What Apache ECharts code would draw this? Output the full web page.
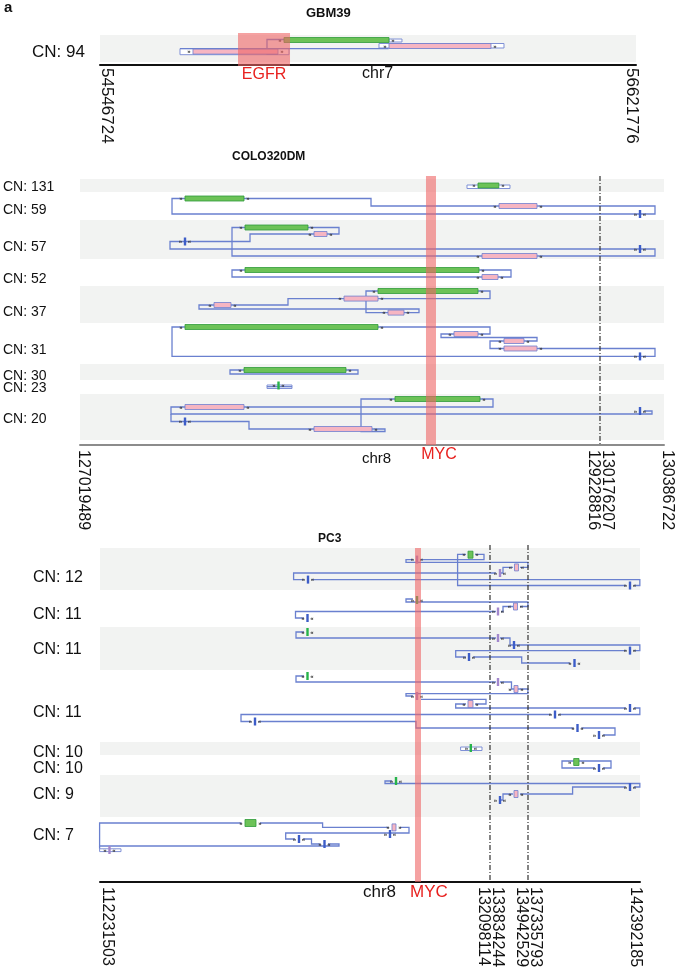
<!DOCTYPE html>
<html><head><meta charset="utf-8">
<script src="https://cdn.jsdelivr.net/npm/echarts/dist/echarts.min.js"></script>
<style>html,body{margin:0;padding:0;background:#fff}#c{width:680px;height:976px}</style>
</head><body><div id="c"></div>
<script>
// ================= DATA (genomic positions in Mb; y = track offset inside each panel) =================
// ---- GBM39 (chr7) ----
const gbmSegments = [[54.546724, 56.621776]];
const gbmTickLabels = [[54.546724,'54546724',1],[56.621776,'56621776',-0.6]];
const gbmBands = [[0,27,1]];
const gbmCN = [[17,'CN: 94']];
const gbmHighlight = [[55.0810,55.2823,-2,31,'EGFR']];
const gbmBars = [[55.2590,55.6655,5,'g',1],[55.6655,56.0604,11,'p',1],[54.9067,55.2358,16.6,'p',1]];
const gbmBoxes = [[55.6655,55.7158,4,7],[55.6268,56.1107,8.5,13],[54.8564,55.2784,13.6,19.7]];
const gbmTicks = [];
const gbmPaths = [
  [[55.2590,4.5],[55.1932,4.5],[55.1932,19],[55.2358,19]],
  [[54.8564,13.6],[55.6616,13.6],[55.6616,13]]
];
// ---- COLO320DM (chr8) ----
const colSegments = [[127.019489,129.228816],[130.176207,130.386722]];
const colTickLabels = [[127.019489,'127019489',0.5],[129.228816,'129228816',-1],[130.176207,'130176207',1],[130.386722,'130386722',0.5]];
const colBands = [[3,16,1],[16,44,0],[44,83,1],[83,110,0],[110,147,1],[147,188,0],[188,204,1],[204,218,0],[218,264,1]];
const colCN = [[11,'CN: 131'],[34,'CN: 59'],[71,'CN: 57'],[103,'CN: 52'],[136,'CN: 37'],[174,'CN: 31'],[200,'CN: 30'],[212,'CN: 23'],[243,'CN: 20']];
const colHighlight = [[128.4895,128.5320,0,269,'MYC']];
const colBars = [
  [128.7105,128.7990,9.5,'g',1],[127.4656,127.7163,22.5,'g',1],[128.7997,128.9612,30,'p',1],
  [127.7205,127.9882,51.5,'g',1],[128.0137,128.0689,58,'p',-1],[128.7275,128.9612,80,'p',-1],
  [127.7205,128.7147,94,'g',1],[128.7275,128.7955,101,'p',-1],
  [128.2856,128.7105,115,'g',1],[128.1412,128.2856,122.6,'p',-1],[127.5888,127.6610,129,'p',-1],[128.3281,128.3961,136.6,'p',-1],
  [127.4656,128.2856,151,'g',1],[128.6085,128.7105,158,'p',-1],[128.8209,128.9059,165,'p',-1],[128.8209,128.9612,172.5,'p',1],
  [127.7163,128.1496,194,'g',1],
  [128.3578,128.7190,223,'g',1],[127.4656,127.7163,231,'p',-1],[128.0137,128.2601,253,'p',1]
];
const colBoxes = [[128.6637,128.8464,9,12.5],[127.8140,127.9202,209,212.5]];
const colTicks = [[130.3078,38,'b'],[127.4656,65.5,'b'],[130.3078,73,'b'],[130.3078,180.4,'b'],[130.3078,235,'b'],[127.4656,245.5,'b'],[127.8629,209.5,'g']];
const colPaths = [
  [[127.4656,22.5],[127.4104,22.5],[127.4104,38],[130.3571,38],[130.3571,30],[128.9612,30]],
  [[127.7163,22.5],[128.2559,22.5],[128.2559,30],[128.7997,30]],
  [[127.9882,51.5],[128.1199,51.5],[128.1199,58],[128.0689,58]],
  [[128.0137,58],[127.7418,58],[127.7418,65.5],[127.4656,65.5]],
  [[127.4656,65.5],[127.4019,65.5],[127.4019,73],[130.3571,73],[130.3571,80],[128.9612,80]],
  [[128.7275,80],[127.6653,80],[127.6653,51.5],[127.7205,51.5]],
  [[128.7147,94],[128.8507,94],[128.8507,101],[128.7955,101]],
  [[128.7275,101],[127.6653,101],[127.6653,94],[127.7205,94]],
  [[128.7105,115],[128.7615,115],[128.7615,122.6],[128.2856,122.6]],
  [[128.1412,122.6],[127.9032,122.6],[127.9032,129],[127.6610,129]],
  [[127.5888,129],[127.5251,129],[127.5251,133],[128.4598,133],[128.4598,136.6],[128.3961,136.6]],
  [[128.3281,136.6],[128.2346,136.6],[128.2346,115],[128.2856,115]],
  [[128.2856,151],[128.7615,151],[128.7615,158],[128.7105,158]],
  [[128.6085,158],[128.5533,158],[128.5533,161.5],[128.9612,161.5],[128.9612,165],[128.9059,165]],
  [[128.8209,165],[128.7615,165],[128.7615,172.5],[128.8209,172.5]],
  [[128.9612,172.5],[130.3571,172.5],[130.3571,180.4],[127.4104,180.4],[127.4104,151],[127.4656,151]],
  [[127.7163,194],[127.6568,194],[127.6568,198],[128.2006,198],[128.2006,194],[128.1496,194]],
  [[127.8140,210.7],[127.9202,210.7]],
  [[128.7190,223],[128.7742,223],[128.7742,231],[127.7163,231]],
  [[127.4656,231],[127.4061,231],[127.4061,238],[130.3473,238],[130.3473,235],[130.3209,235]],
  [[127.4061,238],[127.4061,245.5],[127.4656,245.5]],
  [[127.4656,245.5],[127.7375,245.5],[127.7375,253],[128.0137,253]],
  [[128.2601,253],[128.3153,253],[128.3153,255.5],[128.2134,255.5],[128.2134,223],[128.3578,223]]
];
// ---- PC3 (chr8) ----
const pcSegments = [[112.231503,132.098114],[133.834244,134.942529],[137.335793,142.392185]];
const pcTickLabels = [[112.231503,'112231503',1],[132.098114,'132098114',-1],[133.834244,'133834244',1],[134.942529,'134942529',-1],[137.335793,'137335793',1],[142.392185,'142392185',-0.6]];
const pcBands = [[3,45,1],[45,82,0],[82,125,1],[125,197,0],[197,210,1],[210,230,0],[230,272,1],[272,335,0]];
const pcCN = [[33,'CN: 12'],[70,'CN: 11'],[105,'CN: 11'],[168,'CN: 11'],[208,'CN: 10'],[224,'CN: 10'],[250,'CN: 9'],[291,'CN: 7']];
const pcHighlight = [[128.2776,128.5832,3,337,'MYC']];
const pcBars = [
  [130.9774,131.2321,9.7,'G',1],[134.5633,134.6508,22.4,'P',-1],[134.5342,134.6217,61.5,'P',-1],
  [134.5633,134.6217,144,'P',1],[130.9774,131.2321,159,'P',-1],[139.3990,139.6382,217,'G',1],
  [134.5633,134.6217,249,'P',-1],[119.6178,120.1781,278,'G',1],[127.1060,127.3097,282.4,'P',1]
];
const pcBoxes = [[130.6005,131.6906,202,205.5],[112.2111,113.3012,303.8,306.6]];
const pcTicks = [
  [128.3795,14.6,'u'],[134.1259,28,'u'],[122.8270,34.6,'b'],[141.9407,40.5,'b'],
  [128.3795,55,'g'],[134.0675,66.5,'u'],[122.8016,73,'b'],
  [122.8016,87,'g'],[134.0675,93,'u'],[134.5342,100,'b'],[141.9407,105.6,'b'],[131.0284,112,'b'],[139.4351,118,'b'],
  [122.8016,131,'g'],[134.0675,137,'u'],[128.3795,151,'u'],[141.9407,163,'b'],[138.5547,169.5,'b'],[120.1272,176.5,'b'],[139.5705,183,'b'],[140.5412,190,'b'],
  [131.1201,203,'g'],[140.5412,223,'b'],
  [127.3097,236,'g'],[141.9407,242,'b'],[134.1259,255,'b'],
  [127.0041,289,'b'],[122.3686,294,'b'],[123.6675,299,'b'],[112.7154,305,'u']
];
const pcPaths = [
  [[134.0092,28],[122.0935,28],[122.0935,34.6],[122.6233,34.6]],
  [[123.0308,34.6],[142.385,34.6],[142.385,40.5],[142.1213,40.5]],
  [[141.7601,40.5],[130.4477,40.5],[130.4477,9.3],[130.8755,9.3]],
  [[131.3340,9.3],[131.7925,9.3],[131.7925,14.6],[128.5832,14.6]],
  [[128.1757,14.6],[127.8191,14.6],[127.8191,17.3],[134.94,17.3],[134.94,22.4],[134.7092,22.4]],
  [[134.5050,22.4],[134.2133,22.4],[134.2133,28],[134.1550,28]],
  [[128.1757,54],[127.8191,54],[127.8191,57],[134.94,57],[134.94,61.5],[134.7092,61.5]],
  [[134.5050,61.5],[134.2133,61.5],[134.2133,66.5],[134.1550,66.5]],
  [[134.0092,66.5],[122.1903,66.5],[122.1903,73],[122.6233,73]],
  [[122.6233,87],[122.2157,87],[122.2157,93],[134.0092,93]],
  [[134.1259,93],[134.4175,93],[134.4175,100],[134.5050,100]],
  [[134.5633,100],[142.385,100],[142.385,105.6],[142.1213,105.6]],
  [[141.7601,105.6],[130.3509,105.6],[130.3509,112],[130.8755,112]],
  [[131.2321,112],[134.7587,112],[134.7587,118],[139.2319,118]],
  [[122.6233,131],[122.2157,131],[122.2157,137],[134.0092,137]],
  [[134.1259,137],[134.4612,137],[134.4612,144],[134.5342,144]],
  [[134.6508,144],[134.94,144],[134.94,148.6],[127.8191,148.6],[127.8191,151],[128.1757,151]],
  [[128.5832,154.3],[131.8943,154.3],[131.8943,159],[131.3340,159]],
  [[130.8755,159],[130.3509,159],[130.3509,163],[141.7601,163]],
  [[142.1213,163],[142.385,163],[142.385,169.5],[138.7353,169.5]],
  [[138.3742,169.5],[119.4140,169.5],[119.4140,176.5],[119.9235,176.5]],
  [[120.3310,176.5],[128.3285,176.5],[128.3285,183],[139.3990,183]],
  [[139.7511,183],[141.2635,183],[141.2635,190],[140.7218,190]],
  [[139.6382,216],[141.0829,216],[141.0829,223],[140.7218,223]],
  [[140.3606,223],[138.8708,223],[138.8708,216],[139.3990,216]],
  [[127.1060,236],[126.7494,236],[126.7494,238.5],[142.385,238.5],[142.385,242],[142.1213,242]],
  [[141.7601,242],[139.3493,242],[139.3493,249],[134.7092,249]],
  [[134.5050,249],[134.2133,249],[134.2133,255],[134.1550,255]],
  [[119.4343,278],[112.2111,278],[112.2111,301],[124.4062,301],[124.4062,299],[123.8458,299]],
  [[123.4638,299],[123.0053,299],[123.0053,294],[122.5723,294]],
  [[122.1648,294],[121.6911,294],[121.6911,288],[127.9720,288],[127.9720,282.4],[127.5135,282.4]],
  [[120.3819,278],[123.5707,278],[123.5707,282.4],[126.9379,282.4]],
  [[112.2111,301],[112.2111,303.8]]
];

// ================= LAYOUT / STYLE =================
const FONT = "'Liberation Sans', Arial, Helvetica, sans-serif";
const panels = [
  {segs:gbmSegments, weights:[536], left:100, top:35, height:30, bands:gbmBands, cn:gbmCN, cnFont:17, cnGap:68,
   bars:gbmBars, boxes:gbmBoxes, ticks:gbmTicks, paths:gbmPaths, hl:gbmHighlight, hlShift:0, hlFont:16,
   tickLabels:gbmTickLabels, tlFont:17, tlGap:3, axisColor:'#111', barH:5},
  {segs:colSegments, weights:[520,64], left:80, top:176, height:269, bands:colBands, cn:colCN, cnFont:14, cnGap:77,
   bars:colBars, boxes:colBoxes, ticks:colTicks, paths:colPaths, hl:colHighlight, hlShift:8, hlFont:16,
   tickLabels:colTickLabels, tlFont:16, tlGap:5, axisColor:'#8c8c8c', barH:5},
  {segs:pcSegments, weights:[390,38,112], left:100, top:545, height:337, bands:pcBands, cn:pcCN, cnFont:16, cnGap:67,
   bars:pcBars, boxes:pcBoxes, ticks:pcTicks, paths:pcPaths, hl:pcHighlight, hlShift:11, hlFont:17,
   tickLabels:pcTickLabels, tlFont:16, tlGap:5, axisColor:'#111', barH:4}
];

function makeScale(segs, weights){
  const starts=[]; let acc=0;
  weights.forEach(w=>{starts.push(acc); acc+=w;});
  return {total:acc, f:(g)=>{
    for(let i=0;i<segs.length;i++){
      const a=segs[i][0], b=segs[i][1];
      if(g<=b || i===segs.length-1){ if(g<a && i>0) g=a; return starts[i]+(g-a)/(b-a)*weights[i]; }
    }
  }};
}
const glyph=(x,y,s)=>({type:'text', x:x, y:y, style:{text:s, font:'bold 6px '+FONT, fill:'#333', align:'center', verticalAlign:'middle'}});

const grids=[], xAxes=[], yAxes=[], series=[];
panels.forEach((p,pi)=>{
  const sc = makeScale(p.segs, p.weights);
  grids.push({left:p.left, top:p.top, width:sc.total, height:p.height});
  xAxes.push({gridIndex:pi, type:'value', min:0, max:sc.total,
    axisLine:{show:true, onZero:false, lineStyle:{color:p.axisColor, width:2}},
    axisTick:{show:false}, axisLabel:{show:false}, splitLine:{show:false}});
  yAxes.push({gridIndex:pi, type:'value', inverse:true, min:0, max:p.height, show:false});
  const C=(api,g,y)=>api.coord([sc.f(g),y]);
  const add=(rows,z,fn)=>series.push({type:'custom', xAxisIndex:pi, yAxisIndex:pi, z:z, silent:true, clip:false, animation:false,
     data:rows.map((r,i)=>[i,0]), renderItem:(params,api)=>fn(rows[params.dataIndex],api)});
  // background bands
  add(p.bands,1,(r,api)=>{
    if(!r[2]) return {type:'group', children:[]};
    const a=api.coord([0,r[0]]), b=api.coord([sc.total,r[1]]);
    return {type:'rect', shape:{x:a[0],y:a[1],width:b[0]-a[0],height:b[1]-a[1]}, style:{fill:'#f2f3f2'}};
  });
  // CN labels
  add(p.cn,2,(r,api)=>{
    const a=api.coord([0,r[0]]);
    return {type:'text', x:a[0]-p.cnGap, y:a[1], style:{text:r[1], font:p.cnFont+'px '+FONT, fill:'#111', align:'left', verticalAlign:'middle'}};
  });
  // outline boxes
  add(p.boxes,3,(r,api)=>{
    const a=C(api,r[0],r[2]), b=C(api,r[1],r[3]);
    return {type:'rect', shape:{x:a[0],y:a[1],width:b[0]-a[0],height:b[1]-a[1]}, style:{fill:'#fff', stroke:'#7f90d6', lineWidth:1}};
  });
  // connection paths
  add(p.paths,4,(r,api)=>({type:'polyline', shape:{points:r.map(pt=>C(api,pt[0],pt[1]))},
      style:{stroke:'#6a80cf', lineWidth:1.3, fill:'none'}}));
  // segments (bars)
  add(p.bars,5,(r,api)=>{
    const a=C(api,r[0],r[2]), b=C(api,r[1],r[2]);
    const tall=(r[3]==='G'||r[3]==='P'); const h=tall?7:p.barH;
    let x0=a[0], x1=b[0];
    if(x1-x0<4){const m=(x0+x1)/2; x0=m-2; x1=m+2;}
    const green=r[3].toLowerCase()==='g';
    const s=r[4]>0?'»':'«';
    return {type:'group', children:[
      {type:'rect', shape:{x:x0,y:a[1]-h/2,width:x1-x0,height:h}, style:{fill:green?'#6cc257':'#f6b5c2', stroke:green?'#2f9a3a':'#6f7fcf', lineWidth:0.8}},
      glyph(x0-4,a[1],s), glyph(x1+4,a[1],s)]};
  });
  // breakpoint ticks
  add(p.ticks,6,(r,api)=>{
    const a=C(api,r[0],r[1]);
    const col={b:'#3d5dc8', u:'#a287cc', g:'#27b34a'}[r[2]];
    return {type:'group', children:[
      {type:'rect', shape:{x:a[0]-1.2,y:a[1]-4,width:2.4,height:8}, style:{fill:col}},
      glyph(a[0]-4.5,a[1],'»'), glyph(a[0]+4.5,a[1],'«')]};
  });
  // gene highlight
  add(p.hl,7,(r,api)=>{
    const a=C(api,r[0],r[2]), b=C(api,r[1],r[3]);
    const axisY=api.coord([0,p.height])[1];
    return {type:'group', children:[
      {type:'rect', shape:{x:a[0],y:a[1],width:b[0]-a[0],height:b[1]-a[1]}, style:{fill:'rgba(238,100,100,0.6)'}},
      {type:'text', x:(a[0]+b[0])/2+p.hlShift, y:axisY+2, style:{text:r[4], font:p.hlFont+'px '+FONT, fill:'#e8211f', align:'center', verticalAlign:'top'}}]};
  });
  // axis breaks
  const breaks=p.segs.slice(0,-1).map(s=>s[1]);
  add(breaks,8,(g,api)=>{
    const a=C(api,g,0), b=C(api,g,p.height);
    return {type:'line', shape:{x1:a[0],y1:a[1],x2:b[0],y2:b[1]}, style:{stroke:'#333', lineWidth:1.2, lineDash:[5,2,1,2]}};
  });
  // rotated coordinate labels
  add(p.tickLabels,9,(r,api)=>{
    const a=C(api,r[0],p.height);
    return {type:'text', x:a[0]+r[2]*7, y:a[1]+p.tlGap, rotation:-Math.PI/2,
      style:{text:r[1], font:p.tlFont+'px '+FONT, fill:'#111', align:'left', verticalAlign:'middle'}};
  });
});

const T=(text,left,top,size,bold)=>({text:text, left:left, top:top, padding:0,
  textStyle:{fontFamily:FONT, fontSize:size, fontWeight:bold?'bold':'normal', color:'#111'}});
const chart = echarts.init(document.getElementById('c'), null, {renderer:'canvas'});
chart.setOption({
  animation:false,
  title:[T('a',4,0,15,true), T('GBM39',306,7,13,true), T('COLO320DM',232,151,12,true), T('PC3',318,533,12,true),
         T('chr7',362,66,16,false), T('chr8',362,451,15,false), T('chr8',363,884,17,false)],
  grid:grids, xAxis:xAxes, yAxis:yAxes, series:series
});
</script></body></html>
